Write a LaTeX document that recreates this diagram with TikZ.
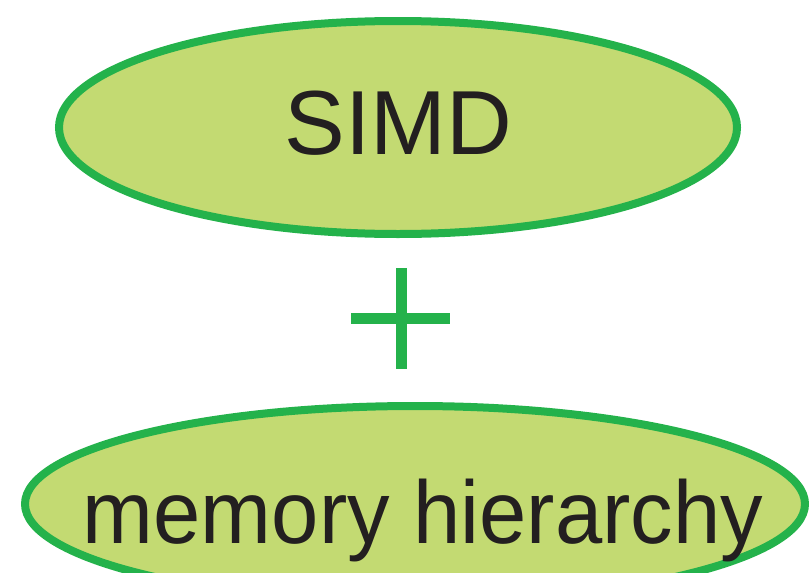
\documentclass[tikz,border=0pt]{standalone}
\usepackage{xcolor}
\usepackage{graphicx}
\usepackage{fontspec}
\setmainfont{Liberation Sans}
\usetikzlibrary{shapes.geometric}

\definecolor{leafgreen}{HTML}{C3DA72}
\definecolor{edgegreen}{HTML}{24B24B}
\definecolor{inkgray}{HTML}{231F20}

\tikzset{
  bubble/.style={ellipse, draw=edgegreen, fill=leafgreen, line width=8pt, inner sep=0pt},
  bigtext/.style={anchor=base, text=inkgray, inner sep=0pt},
  plusbar/.style={draw=edgegreen, line width=11pt}
}

\begin{document}
\begin{tikzpicture}[x=1pt,y=-1pt]
                \useasboundingbox (0,0) rectangle (809,573);
                \clip (0,0) rectangle (809,573);

                % Ellipses
                \node[bubble, minimum width=678pt, minimum height=213pt] (simd) at (398,127.5) {};
                \node[bubble, minimum width=780pt, minimum height=196pt] (memory) at (415,504) {};

                % Labels
                \node[bigtext, font=\fontsize{91}{100}\selectfont] (simdtext) at (398.5,154) {SIMD};
                \node[bigtext, font=\fontsize{89}{100}\selectfont] (memorytext) at (423,543) {\scalebox{0.955}[1]{memory hierarchy}};

                % Plus sign
                \coordinate (plusleft) at (351,318.5);
                \coordinate (plusright) at (450,318.5);
                \coordinate (plustop) at (401,268);
                \coordinate (plusbottom) at (401,369);
                \draw[plusbar] (plusleft) -- (plusright);
                \draw[plusbar] (plustop) -- (plusbottom);
            \end{tikzpicture}
\end{document}
